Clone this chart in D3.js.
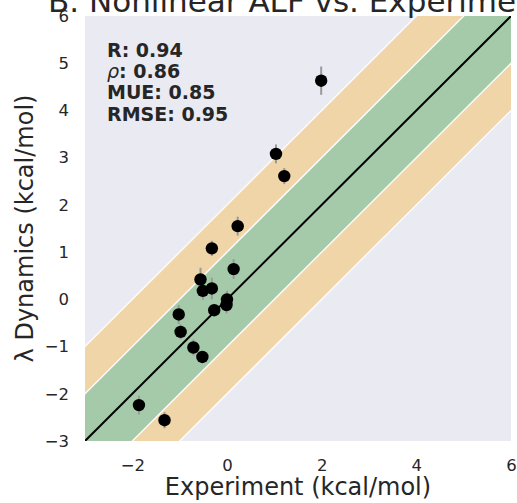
<!DOCTYPE html>
<html><head><meta charset="utf-8">
<script src="https://cdn.jsdelivr.net/npm/d3@7"></script>
<style>body{margin:0;background:#fff}svg{display:block}</style>
</head><body>
<script>
// Data (kcal/mol)
const experiment = [1.99, 1.035, 1.21, 0.226, -0.32, 0.14, -0.56, -0.51, -0.32, 0.0, -0.01, -0.27, -1.02, -0.98, -0.71, -0.52, -1.86, -1.32];
const predicted  = [4.63, 3.08, 2.61, 1.55, 1.08, 0.64, 0.42, 0.18, 0.23, 0.0, -0.12, -0.23, -0.32, -0.69, -1.02, -1.22, -2.24, -2.56];
const predErr    = [0.30, 0.20, 0.17, 0.20, 0.16, 0.21, 0.25, 0.19, 0.23, 0.18, 0.18, 0.10, 0.20, 0.16, 0.17, 0.10, 0.20, 0.17];
const xTicks = [-2, 0, 2, 4, 6];
const yTicks = [-3, -2, -1, 0, 1, 2, 3, 4, 5, 6];
const statLines = [["R", "0.94"], ["ρ", "0.86"], ["MUE", "0.85"], ["RMSE", "0.95"]];
const bandInner = 1, bandOuter = 2;

const W = 517, H = 503;
const m = {l: 85, r: 511, t: 16, b: 441};
const svg = d3.select("body").append("svg").attr("width", W).attr("height", H)
  .style("font-family", "DejaVu Sans, sans-serif");

const x = d3.scaleLinear().domain([-3, 6]).range([m.l, m.r]);
const y = d3.scaleLinear().domain([-3, 6]).range([m.b, m.t]);

svg.append("defs").append("clipPath").attr("id", "clip")
  .append("rect").attr("x", m.l).attr("y", m.t).attr("width", m.r - m.l).attr("height", m.b - m.t);

svg.append("rect").attr("x", m.l).attr("y", m.t).attr("width", m.r - m.l).attr("height", m.b - m.t)
  .attr("fill", "#eaeaf2");

const g = svg.append("g").attr("clip-path", "url(#clip)");
const xs = [-4, 7];
const band = (lo, hi) => {
  const pts = xs.map(v => [x(v), y(v + hi)]).concat(xs.slice().reverse().map(v => [x(v), y(v + lo)]));
  return "M" + pts.map(p => p.join(",")).join("L") + "Z";
};
const orange = "#f0d5a9", green = "#a4caa9";
g.append("path").attr("d", band(bandInner, bandOuter)).attr("fill", orange);
g.append("path").attr("d", band(-bandOuter, -bandInner)).attr("fill", orange);
g.append("path").attr("d", band(-bandInner, bandInner)).attr("fill", green);
[-bandOuter, -bandInner, bandInner, bandOuter].forEach(o => {
  g.append("line").attr("x1", x(xs[0])).attr("y1", y(xs[0] + o)).attr("x2", x(xs[1])).attr("y2", y(xs[1] + o))
    .attr("stroke", "#ffffff").attr("stroke-width", 1.5).attr("opacity", 0.9);
});
g.append("line").attr("x1", x(-3)).attr("y1", y(-3)).attr("x2", x(6)).attr("y2", y(6))
  .attr("stroke", "#000").attr("stroke-width", 2);

const pts = experiment.map((e, i) => ({e, p: predicted[i], s: predErr[i]}));
g.selectAll(".err").data(pts).join("line")
  .attr("x1", d => x(d.e)).attr("x2", d => x(d.e))
  .attr("y1", d => y(d.p - d.s)).attr("y2", d => y(d.p + d.s))
  .attr("stroke", "#9a9a9a").attr("stroke-width", 2);
g.selectAll(".pt").data(pts).join("circle")
  .attr("cx", d => x(d.e)).attr("cy", d => y(d.p)).attr("r", 6.2).attr("fill", "#000");

// Axes
const xAxis = d3.axisBottom(x).tickValues(xTicks).tickSize(0).tickPadding(0)
  .tickFormat(d => d < 0 ? "\u2212" + Math.abs(d) : d);
const yAxis = d3.axisLeft(y).tickValues(yTicks).tickSize(0).tickPadding(0)
  .tickFormat(d => d < 0 ? "\u2212" + Math.abs(d) : d);
const gx = svg.append("g").attr("transform", `translate(0,${m.b + 18})`).call(xAxis);
const gy = svg.append("g").attr("transform", `translate(${m.l - 16},0)`).call(yAxis);
[gx, gy].forEach(a => {
  a.select(".domain").remove();
  a.selectAll("text").attr("fill", "#262626").style("font-size", "16.5px").style("font-family", "DejaVu Sans, sans-serif");
});

svg.append("text").attr("x", (m.l + m.r) / 2).attr("y", 495).attr("text-anchor", "middle")
  .attr("fill", "#262626").style("font-size", "24px").text("Experiment (kcal/mol)");
svg.append("text").attr("transform", `translate(33,${(m.t + m.b) / 2}) rotate(-90)`).attr("text-anchor", "middle")
  .attr("fill", "#262626").style("font-size", "24px").text("λ Dynamics (kcal/mol)");
svg.append("text").attr("x", (m.l + m.r) / 2).attr("y", 12).attr("text-anchor", "middle")
  .attr("fill", "#262626").style("font-size", "31px").text("B. Nonlinear ALF vs. Experiment");

// Stats
const st = svg.append("g");
statLines.forEach((s, i) => {
  const t = st.append("text").attr("x", 107).attr("y", 57 + i * 21.2)
    .attr("fill", "#262626").style("font-size", "19px").style("font-weight", "bold");
  if (s[0] === "ρ") {
    t.append("tspan").style("font-style", "italic").style("font-weight", "normal").text("ρ");
    t.append("tspan").text(": " + s[1]);
  } else {
    t.text(s[0] + ": " + s[1]);
  }
});
</script>
</body></html>
